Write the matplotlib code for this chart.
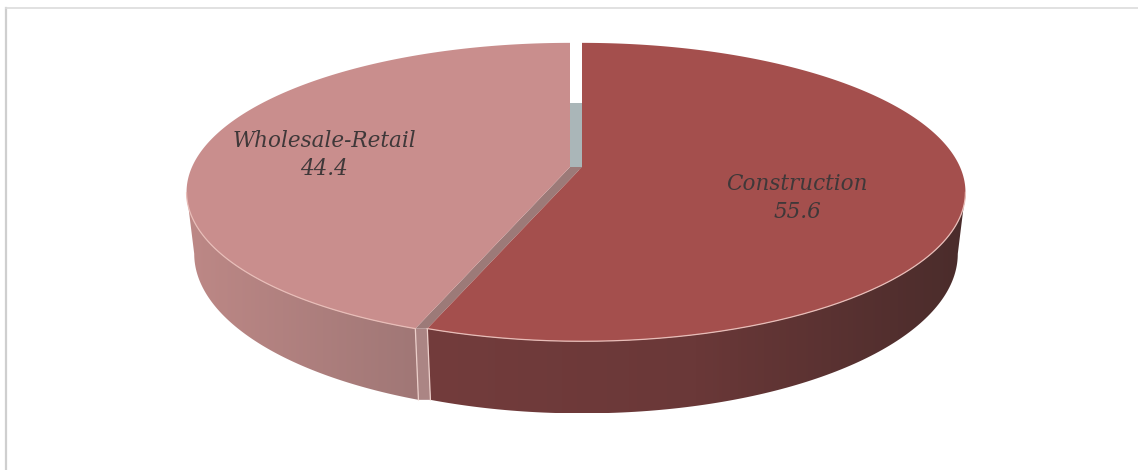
import numpy as np
import matplotlib
matplotlib.use("Agg")
import matplotlib.pyplot as plt
from matplotlib.colors import LinearSegmentedColormap
from matplotlib.patches import Polygon

# datos del grafico
categories = ["Construction", "Wholesale-Retail"]
values = [55.6, 44.4]

top_colors = ["#a44f4d", "#c98e8d"]
wall_colors = [["#733c3c", "#6a3838", "#4a2c2b"], ["#bd8886", "#a07776"]]
label_pos = [(797, 198), (324, 155)]

# geometria del disco (pixeles)
apex_x = [582, 570]
apex_y = 167
half_w = 378
half_h = 145
persp = 0.168
depth = 60
shrink = 0.98
silhouette = np.degrees(np.arccos(-persp))


def rim(a_deg, cx):
    a = np.radians(a_deg)
    u, v = np.sin(a), -np.cos(a)
    w = 1 - persp * v
    return cx + half_w * u / w, apex_y + half_h * v / w, v


def bottom(a_deg, cx):
    x, y, v = rim(a_deg, cx)
    return cx + (x - cx) * shrink, y + depth / (1 - persp * v)


def wall(ax, a0, a1, cx, colors):
    aa = np.linspace(a0, a1, 120)
    tx, ty, _ = rim(aa, cx)
    bx, by = bottom(aa, cx)
    pts = np.vstack([np.c_[tx, ty], np.c_[bx, by][::-1]])
    clip = Polygon(pts, closed=True, fc="none", ec="none", transform=ax.transData)
    ax.add_patch(clip)
    cmap = LinearSegmentedColormap.from_list("wall", colors)
    grad = np.linspace(0, 1, 256).reshape(1, -1)
    im = ax.imshow(grad, cmap=cmap, aspect="auto", zorder=2,
                   extent=(pts[:, 0].min(), pts[:, 0].max(), pts[:, 1].max(), pts[:, 1].min()))
    im.set_clip_path(clip)


fig = plt.figure(figsize=(11.38, 4.7), dpi=100)
ax = fig.add_axes([0, 0, 1, 1])
ax.axis("off")

# marco exterior: solo se ven el lado izquierdo y el superior
ax.plot([6.5, 6.5], [8, 470], color="#cfcfcf", lw=1.6, zorder=1)
ax.plot([6.5, 1138], [8, 8], color="#dcdcdc", lw=1.2, zorder=1)

angles = np.cumsum([0] + values) / sum(values) * 360
cut = angles[1]

# pared frontal de cada porcion
wall(ax, silhouette, cut, apex_x[0], wall_colors[0])
wall(ax, cut, 360 - silhouette, apex_x[1], wall_colors[1])

# hueco entre las dos porciones
tx0, ty0, _ = rim(cut, apex_x[1])
tx1, ty1, _ = rim(cut, apex_x[0])
bx0, by0 = bottom(cut, apex_x[1])
bx1, by1 = bottom(cut, apex_x[0])
ax.add_patch(Polygon([(apex_x[1], apex_y - 64), (apex_x[0], apex_y - 64),
                      (apex_x[0], apex_y + 4), (apex_x[1], apex_y)],
                     fc="#aab6b8", ec="none", zorder=2))
ax.add_patch(Polygon([(apex_x[1], apex_y), (apex_x[0], apex_y),
                      (tx1, ty1), (tx0, ty0)], fc="#9c7a78", ec="none", zorder=2))
ax.add_patch(Polygon([(tx0, ty0), (tx1, ty1), (bx1, by1), (bx0, by0)],
                     fc="#ab8584", ec="none", zorder=2))
ax.plot([tx0, bx0], [ty0, by0], color="#eccfca", lw=0.9, zorder=4)
ax.plot([tx1, bx1], [ty1, by1], color="#eccfca", lw=0.9, zorder=4)

# cara superior
for i, cat in enumerate(categories):
    aa = np.linspace(angles[i], angles[i + 1], 300)
    x, y, _ = rim(aa, apex_x[i])
    ax.add_patch(Polygon(np.vstack([[apex_x[i], apex_y], np.c_[x, y]]), closed=True,
                         fc=top_colors[i], ec="none", zorder=3))
    # borde claro de la parte delantera
    front = (aa >= silhouette) & (aa <= 360 - silhouette)
    ax.plot(x[front], y[front], color="#e8bdb8", lw=0.9, zorder=4)
    ax.text(label_pos[i][0], label_pos[i][1], f"{cat}\n{values[i]}", ha="center", va="center",
            family="DejaVu Serif", style="italic", fontsize=15.5, color="#3f3839",
            linespacing=1.33, zorder=5)

ax.set_xlim(0, 1138)
ax.set_ylim(470, 0)

fig.savefig("out.png", dpi=100)
